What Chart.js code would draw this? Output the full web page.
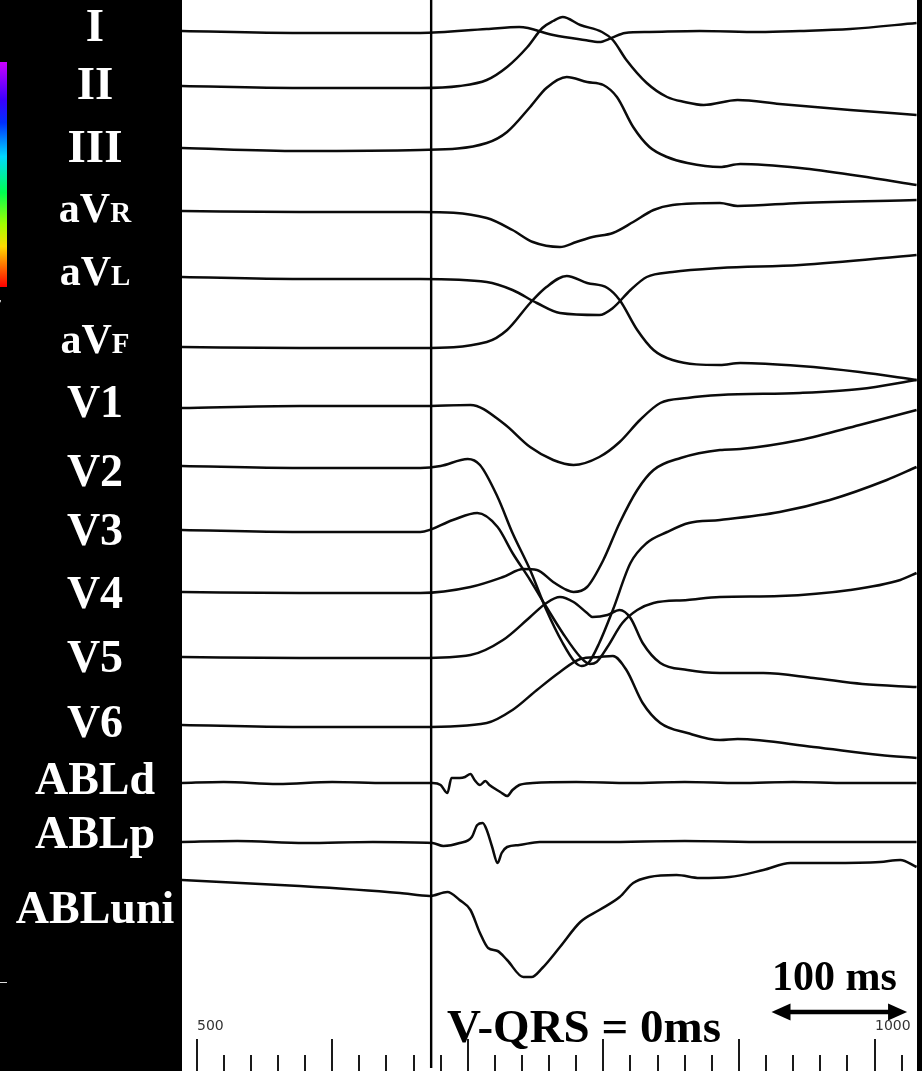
<!DOCTYPE html>
<html><head><meta charset="utf-8">
<script src="https://cdn.jsdelivr.net/npm/chart.js@4.4.1/dist/chart.umd.min.js"></script>
<style>
html,body{margin:0;padding:0;background:#000;}
#wrap{position:relative;width:922px;height:1071px;overflow:hidden;background:#000;}
canvas{position:absolute;left:0;top:0;}
.lbl{position:absolute;left:0;width:190px;text-align:center;color:#fff;font-family:"Liberation Serif","Times New Roman",serif;font-weight:bold;line-height:1;white-space:nowrap;}
.lbl .sub{font-size:29px;}
.ann{position:absolute;color:#000;font-family:"Liberation Serif","Times New Roman",serif;font-weight:bold;line-height:1;white-space:nowrap;}
.tk{position:absolute;color:#333;font-family:"DejaVu Sans",sans-serif;font-size:14px;line-height:1;white-space:nowrap;}
#cbar{position:absolute;left:0;top:62px;width:7px;height:225px;background:linear-gradient(to bottom,#cc00ff 0%,#3a00ff 17%,#0030ff 27%,#00d8ff 42%,#00ff50 58%,#a0ff00 72%,#ffd800 82%,#ff6000 92%,#ff0000 100%);}
#fmark{position:absolute;left:0;top:298px;width:3px;height:11px;overflow:hidden;}
#fmark span{position:absolute;left:-6px;top:-1px;color:#fff;font:bold 12px "Liberation Serif",serif;}
#wline{position:absolute;left:0;top:982px;width:7px;height:1px;background:#ddd;}
</style></head>
<body><div id="wrap"><canvas id="c" width="922" height="1071"></canvas>
<div id="cbar"></div><div id="fmark"><span>F</span></div><div id="wline"></div>
</div>
<script>
// ---- data: lead names, [time ms, amplitude] samples ----
const leadNames = ['I','II','III','aVR','aVL','aVF','V1','V2','V3','V4','V5','V6','ABLd','ABLp','ABLuni'];
const leadI   = [[489,2],[576,0],[665,0],[714,4],[738,6],[763,-2],[786,-7],[797,-9],[806,-5],[816,0],[834,1],[871,2],[915,1],[945,2],[982,4],[1031,10]];
const leadII  = [[489,2],[576,0],[665,0],[694,2],[714,8],[729,21],[744,41],[755,60],[763,67],[770,71],[783,63],[799,56],[807,48],[817,28],[832,5],[847,-9],[860,-14],[874,-17],[899,-12],[930,-16],[982,-22],[1031,-27]];
const leadIII = [[489,2],[576,-1],[665,0],[714,7],[729,18],[746,43],[758,62],[773,73],[788,68],[800,65],[810,53],[822,23],[834,3],[847,-7],[862,-13],[886,-17],[901,-14],[945,-18],[989,-26],[1031,-35]];
const leadAVR = [[489,1],[576,0],[665,0],[714,-6],[733,-18],[748,-30],[768,-35],[780,-30],[792,-25],[807,-21],[822,-10],[837,2],[851,7],[886,9],[899,6],[945,9],[1031,12]];
const leadAVL = [[489,2],[576,0],[665,0],[714,-3],[733,-11],[751,-24],[768,-34],[797,-36],[807,-29],[820,-11],[832,2],[851,7],[886,11],[945,14],[1031,24]];
const leadAVF = [[489,1],[576,0],[665,0],[714,6],[729,18],[746,45],[758,61],[773,72],[788,65],[803,60],[812,48],[825,18],[837,-2],[851,-12],[886,-17],[901,-15],[945,-18],[989,-24],[1031,-32]];
const leadV1  = [[489,-2],[576,0],[665,0],[702,1],[726,-17],[746,-41],[763,-54],[778,-59],[797,-51],[812,-36],[827,-14],[842,3],[862,8],[886,11],[945,13],[989,17],[1031,26]];
const leadV2  = [[489,2],[576,0],[665,0],[680,2],[700,9],[709,3],[722,-29],[733,-65],[746,-102],[758,-142],[770,-175],[779,-194],[784,-198],[789,-195],[797,-175],[807,-142],[820,-95],[832,-75],[847,-64],[863,-55],[886,-52],[930,-44],[967,-32],[1009,-12],[1031,1]];
const leadV3  = [[489,2],[576,0],[665,0],[689,12],[707,19],[722,5],[733,-21],[746,-48],[758,-75],[770,-101],[783,-125],[790,-132],[795,-130],[803,-115],[814,-91],[825,-78],[837,-71],[862,-68],[886,-65],[930,-64],[982,-58],[1019,-48],[1031,-41]];
const leadV4  = [[489,1],[576,0],[665,0],[702,6],[726,16],[741,24],[751,23],[763,11],[773,3],[778,1],[788,6],[800,33],[812,70],[825,103],[837,123],[857,135],[886,143],[901,144],[945,153],[989,168],[1031,183]];
const leadV5  = [[489,1],[576,0],[665,0],[702,3],[726,18],[746,41],[758,55],[768,61],[778,56],[788,45],[792,41],[803,43],[812,48],[820,40],[829,15],[842,-5],[862,-12],[886,-15],[918,-15],[955,-20],[991,-26],[1031,-29]];
const leadV6  = [[489,2],[576,0],[665,0],[714,4],[733,17],[751,37],[768,55],[783,68],[797,70],[807,71],[817,57],[829,24],[842,4],[862,-6],[886,-13],[899,-12],[955,-20],[1004,-28],[1031,-31]];
const leadABLd   = [[489,0],[520,1],[560,-1],[600,1],[640,0],[674,0],[680,-2],[685,-10],[688,5],[694,5],[698,6],[702,9],[705,3],[709,-2],[713,2],[716,-2],[724,-9],[729,-13],[733,-7],[738,-2],[748,0],[780,1],[820,0],[860,1],[900,0],[940,1],[980,0],[1031,0]];
const leadABLp   = [[489,0],[530,1],[580,-1],[630,0],[674,-1],[682,-4],[694,-1],[703,5],[707,17],[711,19],[714,12],[718,-5],[722,-21],[725,-11],[729,-5],[738,-3],[753,0],[800,0],[860,1],[920,0],[980,0],[1031,0]];
const leadABLuni = [[489,13],[576,7],[650,0],[672,-3],[685,1],[694,-7],[702,-17],[709,-40],[715,-55],[722,-58],[729,-67],[741,-84],[747,-84],[755,-75],[768,-54],[783,-29],[797,-17],[812,-4],[822,10],[834,16],[854,18],[871,15],[893,16],[918,23],[938,30],[967,30],[1004,31],[1019,33],[1031,26]];
const leadSeries = [leadI,leadII,leadIII,leadAVR,leadAVL,leadAVF,leadV1,leadV2,leadV3,leadV4,leadV5,leadV6,leadABLd,leadABLp,leadABLuni];

// x-axis ruler (ms) and its labels
const rulerTicks = [500,520,540,560,580,600,620,640,660,680,700,720,740,760,780,800,820,840,860,880,900,920,940,960,980,1000,1020];
const tickLabelValues = [500, 1000];
const tickLabels = ['500', '1000'];
const markerTime = 673;          // V-QRS reference line
const scaleBarMs = [924, 1024];  // 100 ms bar

// ---- layout (kept apart from data) ----
const laneBaselines = [33,88,150,212,279,348,406,468,532,593,658,727,783,842,893];
const labelBaselines = [41,99,162,222,285,353,418,487,546,609,673,738,795,849,924];

const datasets = leadSeries.map((s, i) => ({
  label: leadNames[i],
  data: s.map(p => ({x: p[0], y: laneBaselines[i] - p[1]})),
  borderColor: '#0b0b0b',
  borderWidth: 2.5,
  pointRadius: 0,
  fill: false,
  cubicInterpolationMode: 'monotone'
}));

const ecgDecor = {
  id: 'ecgDecor',
  beforeDraw(chart) {
    const {ctx, chartArea: a} = chart;
    ctx.save();
    ctx.fillStyle = '#fff';
    ctx.fillRect(a.left, a.top, a.right - a.left, a.bottom - a.top);
    ctx.restore();
  },
  afterDatasetsDraw(chart) {
    const {ctx, scales: {x}} = chart;
    ctx.save();
    const mx = x.getPixelForValue(markerTime);
    ctx.strokeStyle = '#000'; ctx.lineWidth = 2.4;
    ctx.beginPath(); ctx.moveTo(mx, 0); ctx.lineTo(mx, 1068); ctx.stroke();
    ctx.strokeStyle = '#1a1a1a'; ctx.lineWidth = 2;
    rulerTicks.forEach(t => {
      const px = Math.round(x.getPixelForValue(t));
      const major = t % 100 === 0;
      ctx.beginPath(); ctx.moveTo(px, major ? 1039 : 1055); ctx.lineTo(px, 1071); ctx.stroke();
    });
    const x1 = x.getPixelForValue(scaleBarMs[0]), x2 = x.getPixelForValue(scaleBarMs[1]);
    const yb = 1012;
    ctx.strokeStyle = '#000'; ctx.lineWidth = 4.5;
    ctx.beginPath(); ctx.moveTo(x1 + 10, yb); ctx.lineTo(x2 - 10, yb); ctx.stroke();
    ctx.fillStyle = '#000';
    ctx.beginPath(); ctx.moveTo(x1, yb); ctx.lineTo(x1 + 19, yb - 8.5); ctx.lineTo(x1 + 19, yb + 8.5); ctx.closePath(); ctx.fill();
    ctx.beginPath(); ctx.moveTo(x2, yb); ctx.lineTo(x2 - 19, yb - 8.5); ctx.lineTo(x2 - 19, yb + 8.5); ctx.closePath(); ctx.fill();
    ctx.fillRect(917, 0, 5, 1071);
    ctx.restore();
  }
};

const chart = new Chart(document.getElementById('c'), {
  type: 'line',
  data: {datasets},
  options: {
    responsive: false,
    devicePixelRatio: 1,
    animation: false,
    layout: {padding: {left: 182, right: 0, top: 0, bottom: 0}},
    scales: {
      x: {type: 'linear', min: 489.25, max: 1035, display: false},
      y: {type: 'linear', min: 0, max: 1071, reverse: true, display: false}
    },
    plugins: {legend: {display: false}, tooltip: {enabled: false}}
  },
  plugins: [ecgDecor]
});

// ---- text overlays ----
const wrap = document.getElementById('wrap');
leadNames.forEach((n, i) => {
  const d = document.createElement('div');
  d.className = 'lbl';
  let fs = 46;
  if (/^aV/.test(n)) {
    fs = 42;
    d.innerHTML = 'aV<span class="sub">' + n.slice(2) + '</span>';
  } else {
    if (/^I+$/.test(n)) fs = 47;
    d.textContent = n;
  }
  d.style.fontSize = fs + 'px';
  d.style.top = (labelBaselines[i] - 0.8375 * fs) + 'px';
  wrap.appendChild(d);
});
tickLabelValues.forEach((v, i) => {
  const s = document.createElement('div');
  s.className = 'tk';
  s.textContent = tickLabels[i];
  s.style.left = Math.round(chart.scales.x.getPixelForValue(v)) + 'px';
  s.style.top = '1018px';
  wrap.appendChild(s);
});
function ann(text, left, baseline, fs) {
  const a = document.createElement('div');
  a.className = 'ann';
  a.textContent = text;
  a.style.fontSize = fs + 'px';
  a.style.left = left + 'px';
  a.style.top = (baseline - 0.8375 * fs) + 'px';
  wrap.appendChild(a);
}
ann('100 ms', 772, 990, 42);
ann('V-QRS = 0ms', 447, 1042, 47);
</script>
</body></html>
